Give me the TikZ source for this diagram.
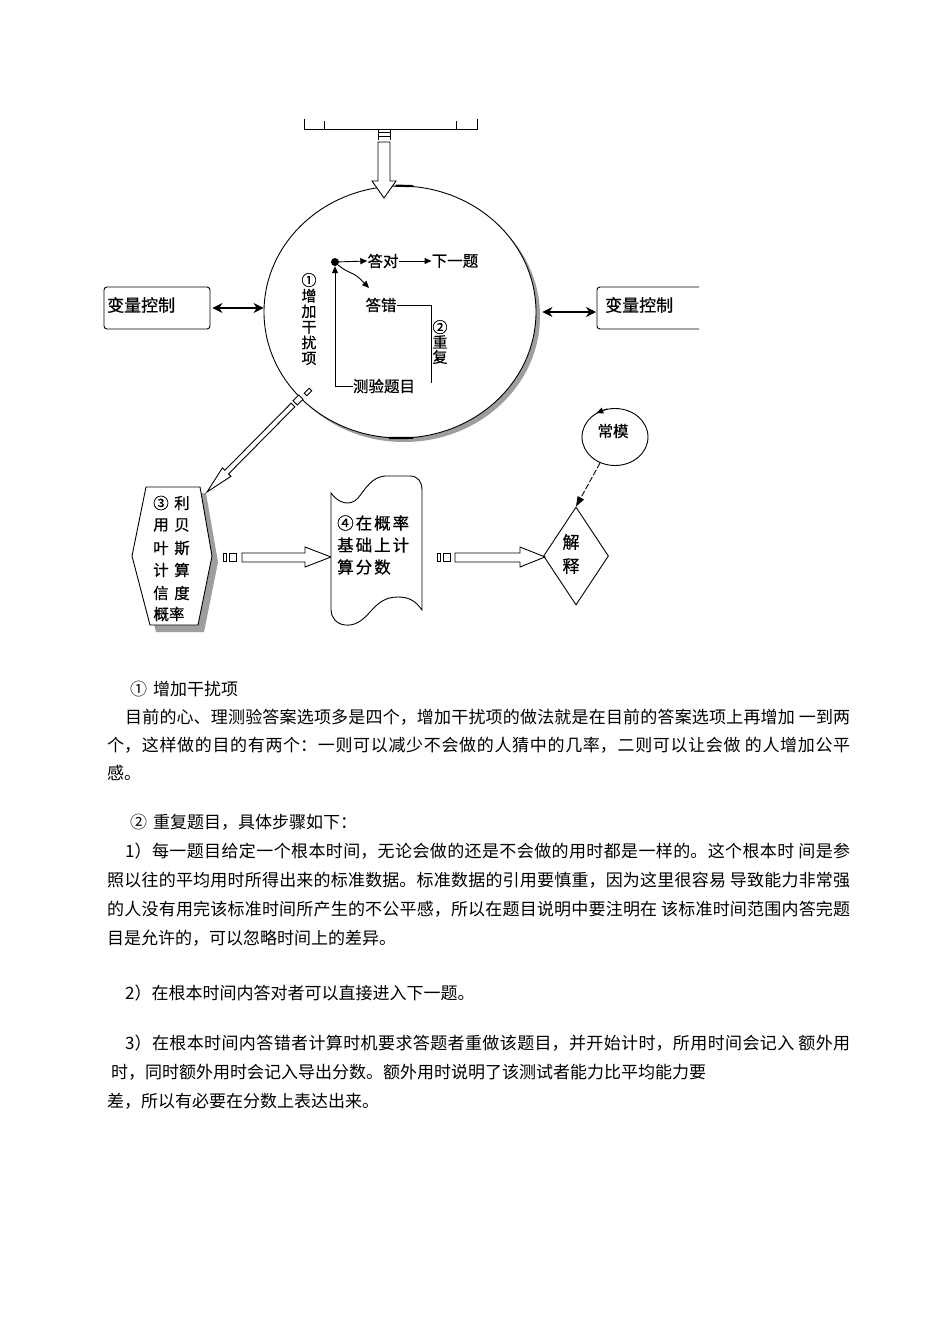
\documentclass[tikz,border=0pt]{standalone}
\usepackage{fontspec}
\setmainfont{Noto Sans CJK SC}
\newfontfamily\cjkd[FakeBold=0.6]{Noto Sans CJK SC}
\newfontfamily\cjkls[LetterSpace=12,FakeBold=0.6]{Noto Sans CJK SC}
\usetikzlibrary{arrows.meta,shapes.geometric,calc}
\XeTeXlinebreaklocale "zh"
\XeTeXlinebreakskip=0pt plus 3pt
\tikzset{
 ln/.style={line width=0.9pt},
 dtxt/.style={inner sep=0pt, font=\fontsize{15.5pt}{16pt}\cjkd},
 btxt/.style={inner sep=0pt, anchor=base west, font=\fontsize{17pt}{20pt}\selectfont},
 hollow/.style={ln, fill=white},
 shade/.style={fill=black!38},
 tip/.style={-{Triangle[length=7pt,width=6pt]}},
 dbl/.style={ln, line width=1.2pt, {Stealth[length=10pt,width=10pt]}-{Stealth[length=10pt,width=10pt]}},
}
\newcommand\jline[2]{\parbox[t]{#1}{\parfillskip=0pt\relax #2}}
\begin{document}
\begin{tikzpicture}[x=1pt,y=-1pt]
\fill[white] (0,0) rectangle (950,1344);
\useasboundingbox (0,0) rectangle (950,1344);

% ---------- top bracket and arrow ----------
\draw[ln] (304,119) -- (304,129) -- (477,129) -- (477,119);
\draw[ln] (324,121) -- (324,129);
\draw[ln] (456,121) -- (456,129);
\draw[ln] (378,129) -- (378,140);
\draw[ln] (390,129) -- (390,140);
\draw[line width=1.6pt] (378,132.5) -- (390,132.5);
\draw[line width=1.6pt] (378,136.5) -- (390,136.5);

% ---------- main circle ----------
\fill[shade] (404,316) ellipse [x radius=136pt, y radius=126pt];
\node[draw, ln, ellipse, fill=white, minimum width=272pt, minimum height=252pt, inner sep=0pt] (circ) at (400,312) {};
\draw[line width=2.2pt] (circ.84) -- (circ.92);
\draw[line width=2.2pt] (circ.265) -- (circ.276);
\draw[hollow] (378,142) -- (378,181) -- (372,181) -- (384,198) -- (396,181) -- (390,181) -- (390,142) -- cycle;

% ---------- side boxes ----------
\node[draw, ln, rounded corners=3pt, minimum width=106pt, minimum height=42pt, inner sep=0pt] (vl) at (157,308) {};
\node[dtxt, anchor=west, font=\fontsize{17pt}{18pt}\cjkd] (vlt) at (107,305) {变量控制};
\draw[ln, rounded corners=3pt] (699,287) -- (597,287) -- (597,329) -- (699,329);
\coordinate (vr) at (597,310);
\node[dtxt, anchor=west, font=\fontsize{17pt}{18pt}\cjkd] (vrt) at (605,305) {变量控制};
\draw[dbl, shorten <=2pt] (vl.east) -- (vl.east -| circ.west);
\draw[dbl, shorten <=6pt, shorten >=1pt] (circ.east) -- (circ.east -| vr);

% ---------- inner flow ----------
\node[circle, fill, inner sep=0pt, minimum size=8pt] (dot) at (335,262) {};
\node[dtxt] (dd) at (383,261) {答对};
\node[dtxt] (nx) at (455,261) {下一题};
\node[dtxt] (dc) at (381,305) {答错};
\node[dtxt] (cy) at (384,386) {测验题目};
\coordinate (rb) at (431,383);
\draw[ln, tip] (dot) -- (dd.west);
\draw[ln, tip] (dd.east) -- (nx.west);
\draw[ln, tip] (dot.south east) .. controls (352,276) and (352,270) .. (369,288);
\draw[ln] (dc.east) -| (rb);
\draw[ln, tip] (cy.west) -| (dot.south);
\node[dtxt, align=center, font=\fontsize{15pt}{15.6pt}\cjkd] (t1) at (309,319) {①\\增\\加\\干\\扰\\项};
\node[dtxt, align=center, font=\fontsize{15pt}{15pt}\cjkd] (t2) at (440,342) {②\\重\\复};

% ---------- hexagon ----------
\fill[shade] (152,493) -- (206,493) -- (218,562) -- (204,632) -- (156,632) -- (138,562) -- cycle;
\draw[hollow] (146,487) -- (200,487) -- (212,556) -- (198,625) -- (150,625) -- (132,556) -- cycle;
\node[dtxt] (h1a) at (161,503) {③};
\node[dtxt] (h1b) at (182,503) {利};
\node[dtxt] (h2a) at (161,525) {用};
\node[dtxt] (h2b) at (182,525) {贝};
\node[dtxt] (h3a) at (161,548) {叶};
\node[dtxt] (h3b) at (182,548) {斯};
\node[dtxt] (h4a) at (161,570) {计};
\node[dtxt] (h4b) at (182,570) {算};
\node[dtxt] (h5a) at (161,593) {信};
\node[dtxt] (h5b) at (182,593) {度};
\node[dtxt] (h6) at (169,614) {概率};

% ---------- diagonal arrow ----------
\coordinate (dS) at (293,405);
\coordinate (dT) at (207,492);
\coordinate (dH) at ($(dT)!28pt!(dS)$);
\draw[hollow] (dT) -- ($(dH)!6pt!90:(dS)$) -- ($(dH)!2.6pt!90:(dS)$) -- ($(dS)!2.6pt!-90:(dT)$) -- ($(dS)!2.6pt!90:(dT)$) -- ($(dH)!2.6pt!-90:(dS)$) -- ($(dH)!6pt!-90:(dS)$) -- cycle;
\node[draw, ln, fill=white, minimum width=8pt, minimum height=6pt, inner sep=0pt, rotate=45] (hd) at (298,400) {};
\node[draw, ln, fill=white, minimum width=7pt, minimum height=3.5pt, inner sep=0pt, rotate=45] (hd2) at (308,392) {};

% ---------- arrow A ----------
\draw[ln] (223,553) rectangle (226,561);
\draw[ln] (229,553) rectangle (236,561);
\draw[hollow] (242,553) -- (305,553) -- (305,547) -- (331,557) -- (305,567) -- (305,562) -- (242,562) -- cycle;

% ---------- tape ----------
\draw[hollow] (331,493) .. controls (338,503) and (350,507) .. (358,498) .. controls (366,488) and (372,477) .. (385,476) -- (410,476) .. controls (418,476) and (422,482) .. (422,490) -- (422,610) .. controls (415,600) and (408,597) .. (398,597) .. controls (385,597) and (378,603) .. (370,612) .. controls (362,621) and (355,626) .. (345,625) .. controls (336,624) and (331,617) .. (331,610) -- cycle;
\node[dtxt, anchor=west, font=\fontsize{16.5pt}{18pt}\cjkls] (tp1) at (337,523) {④在概率};
\node[dtxt, anchor=west, font=\fontsize{16.5pt}{18pt}\cjkls] (tp2) at (337,545) {基础上计};
\node[dtxt, anchor=west, font=\fontsize{16.5pt}{18pt}\cjkls] (tp3) at (337,567) {算分数};

% ---------- arrow B ----------
\draw[ln] (437,553) rectangle (440,561);
\draw[ln] (443,553) rectangle (450,561);
\draw[hollow] (455,553) -- (520,553) -- (520,547) -- (545,557) -- (520,567) -- (520,562) -- (455,562) -- cycle;

% ---------- diamond and norm ----------
\node[draw, ln, diamond, minimum width=65pt, minimum height=98pt, inner sep=0pt] (jd) at (576,556) {};
\node[dtxt, font=\fontsize{17pt}{18pt}\cjkd] (j1) at (571,542) {解};
\node[dtxt, font=\fontsize{17pt}{18pt}\cjkd] (j2) at (571,566) {释};
\node[draw, ln, ellipse, minimum width=66pt, minimum height=57pt, inner sep=0pt] (cm) at (615,437) {};
\node[dtxt] (cmt) at (613,431) {常模};
\draw[ln, tip] (cm.105) -- (cm.128);
\draw[ln, dash pattern=on 6pt off 2pt, -{Triangle[length=10pt,width=7pt]}] (cm.240) -- (jd.north);

% ---------- body text ----------
\node[btxt] (l1) at (130,695) {①\hspace{6pt}增加干扰项};
\node[btxt] (l2) at (125,723) {\jline{725pt}{目前的心、理测验答案选项多是四个，增加干扰项的做法就是在目前的答案选项上再增加 一到两}};
\node[btxt] (l3) at (107,751) {\jline{743pt}{个，这样做的目的有两个：一则可以减少不会做的人猜中的几率，二则可以让会做 的人增加公平}};
\node[btxt] (l4) at (107,779) {感。};
\node[btxt] (l5) at (130,828) {②\hspace{6pt}重复题目，具体步骤如下：};
\node[btxt] (l6) at (125,857) {\jline{725pt}{1）每一题目给定一个根本时间，无论会做的还是不会做的用时都是一样的。这个根本时 间是参}};
\node[btxt] (l7) at (107,886) {\jline{743pt}{照以往的平均用时所得出来的标准数据。标准数据的引用要慎重，因为这里很容易 导致能力非常强}};
\node[btxt] (l8) at (107,915) {\jline{743pt}{的人没有用完该标准时间所产生的不公平感，所以在题目说明中要注明在 该标准时间范围内答完题}};
\node[btxt] (l9) at (107,944) {目是允许的，可以忽略时间上的差异。};
\node[btxt] (l10) at (125,999) {2）在根本时间内答对者可以直接进入下一题。};
\node[btxt] (l11) at (125,1049) {\jline{725pt}{3）在根本时间内答错者计算时机要求答题者重做该题目，并开始计时，所用时间会记入 额外用}};
\node[btxt] (l12) at (111,1078) {时，同时额外用时会记入导出分数。额外用时说明了该测试者能力比平均能力要};
\node[btxt] (l13) at (107,1107) {差，所以有必要在分数上表达出来。};
\end{tikzpicture}
\end{document}
